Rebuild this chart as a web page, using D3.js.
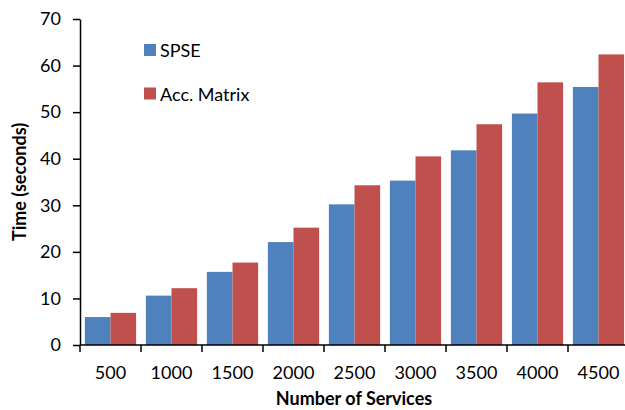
<!DOCTYPE html>
<html>
<head>
<meta charset="utf-8">
<script src="https://cdn.jsdelivr.net/npm/d3@7"></script>
<style>
  body { margin: 0; background: #fff; }
  text { font-family: Lato, "Open Sans", sans-serif; fill: #000; }
</style>
</head>
<body>
<div id="chart"></div>
<script>
// data
const categories = ['500', '1000', '1500', '2000', '2500', '3000', '3500', '4000', '4500'];
const seriesNames = ['SPSE', 'Acc. Matrix'];
const spse = [6.0, 10.6, 15.7, 22.1, 30.2, 35.3, 41.8, 49.7, 55.4];
const accMatrix = [6.9, 12.2, 17.7, 25.2, 34.3, 40.5, 47.4, 56.4, 62.4];
const yTicks = [0, 10, 20, 30, 40, 50, 60, 70];

const colors = ['#4F81BD', '#C0504D'];
const width = 625, height = 410;
const margin = {top: 19, right: -4, bottom: 65, left: 80};

const svg = d3.select('#chart').append('svg')
    .attr('width', width)
    .attr('height', height);

const x = d3.scaleBand()
    .domain(categories)
    .range([margin.left, width - margin.right])
    .paddingInner(0.16)
    .paddingOuter(0.08);

const xSub = d3.scaleBand()
    .domain(seriesNames)
    .range([0, x.bandwidth()]);

const y = d3.scaleLinear()
    .domain([0, 70])
    .range([height - margin.bottom, margin.top]);

const rows = categories.map((c, i) => ({cat: c, values: [spse[i], accMatrix[i]]}));

// bars
svg.append('g')
  .selectAll('g')
  .data(rows)
  .join('g')
    .attr('transform', d => `translate(${x(d.cat)},0)`)
  .selectAll('rect')
  .data(d => d.values.map((v, j) => ({name: seriesNames[j], value: v, j: j})))
  .join('rect')
    .attr('x', d => xSub(d.name))
    .attr('y', d => y(d.value))
    .attr('width', xSub.bandwidth())
    .attr('height', d => y(0) - y(d.value))
    .attr('fill', d => colors[d.j]);

// y axis
const yAxis = svg.append('g')
    .attr('transform', `translate(${margin.left},0)`)
    .call(d3.axisLeft(y).tickValues(yTicks).tickSize(7).tickPadding(12).tickSizeOuter(0));
yAxis.selectAll('text').style('font-size', '18px');
yAxis.selectAll('line, path').attr('stroke', '#000').attr('stroke-width', 1.5);

// x axis: ticks at category boundaries
const step = x.step();
const x0 = margin.left;
const boundaries = d3.range(categories.length + 1).map(i => x0 + i * step);
const xAxis = svg.append('g');
xAxis.append('line')
    .attr('x1', margin.left).attr('x2', width)
    .attr('y1', y(0)).attr('y2', y(0))
    .attr('stroke', '#000').attr('stroke-width', 1.5);
xAxis.selectAll('.tick')
  .data(boundaries)
  .join('line')
    .attr('x1', d => d).attr('x2', d => d)
    .attr('y1', y(0)).attr('y2', y(0) + 7)
    .attr('stroke', '#000').attr('stroke-width', 1.5);
xAxis.selectAll('text')
  .data(categories)
  .join('text')
    .attr('x', d => x(d) + x.bandwidth() / 2)
    .attr('y', y(0) + 34)
    .attr('text-anchor', 'middle')
    .style('font-size', '18px')
    .text(d => d);

// axis titles
svg.append('text')
    .attr('x', (margin.left + 628) / 2)
    .attr('y', 405)
    .attr('text-anchor', 'middle')
    .style('font-size', '18px')
    .style('font-weight', 'bold')
    .text('Number of Services');

svg.append('text')
    .attr('transform', `translate(26,${(y(0) + y(70)) / 2}) rotate(-90)`)
    .attr('text-anchor', 'middle')
    .style('font-size', '18px')
    .style('font-weight', 'bold')
    .text('Time (seconds)');

// legend
const legend = svg.append('g')
  .selectAll('g')
  .data(seriesNames)
  .join('g')
    .attr('transform', (d, i) => `translate(144,${44 + i * 43.5})`);
legend.append('rect')
    .attr('width', 12).attr('height', 12)
    .attr('fill', (d, i) => colors[i]);
legend.append('text')
    .attr('x', 16).attr('y', 13)
    .style('font-size', '18px')
    .text(d => d);
</script>
</body>
</html>
